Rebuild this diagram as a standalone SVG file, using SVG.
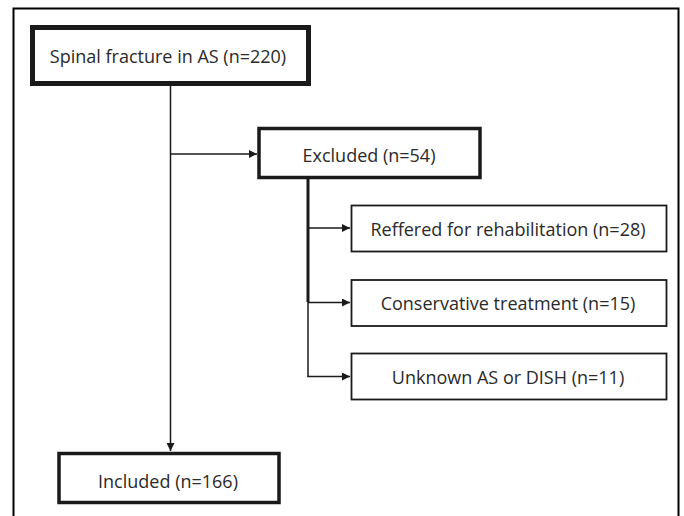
<svg xmlns="http://www.w3.org/2000/svg" width="684" height="516" viewBox="0 0 684 516">
<style>
text{font-family:"Open Sans","Liberation Sans",sans-serif;fill:#2a2a2a;text-anchor:middle;dominant-baseline:central;font-size:18px}
.box{fill:#fff;stroke:#1a1a1a}
.c{fill:none;stroke:#1a1a1a;stroke-width:1.5}
</style>
<defs>
<marker id="ah" viewBox="0 0 10 10" refX="10" refY="5" markerWidth="8" markerHeight="8" markerUnits="userSpaceOnUse" orient="auto">
<path d="M0,0 L10,5 L0,10 z" fill="#1a1a1a"/>
</marker>
</defs>
<rect width="684" height="516" fill="#fff"/>
<path d="M13.5,520 V8.5 H678.5 V520" fill="none" stroke="#000" stroke-width="2"/>
<g id="connectors">
<path class="c" d="M170.5,86 V451" marker-end="url(#ah)"/>
<path class="c" d="M170.5,154 H257" marker-end="url(#ah)"/>
<path d="M308,179 V302" fill="none" stroke="#1a1a1a" stroke-width="3"/>
<path class="c" d="M308,300 V377"/>
<path class="c" d="M308,228 H350" marker-end="url(#ah)"/>
<path class="c" d="M308,302.5 H350" marker-end="url(#ah)"/>
<path class="c" d="M307.5,376.5 H350" marker-end="url(#ah)"/>
</g>
<g id="n1">
<rect class="box" x="32.5" y="27.5" width="276" height="56" stroke-width="5"/>
<text x="168" y="56">Spinal fracture in AS (n=220)</text>
</g>
<g id="n2">
<rect class="box" x="259" y="128.5" width="221" height="49" stroke-width="3.5"/>
<text x="369" y="155">Excluded (n=54)</text>
</g>
<g id="n3">
<rect class="box" x="351.5" y="205.5" width="315" height="46" stroke-width="1.8"/>
<text x="508" y="229">Reffered for rehabilitation (n=28)</text>
</g>
<g id="n4">
<rect class="box" x="351.5" y="280" width="315" height="46" stroke-width="1.8"/>
<text x="508" y="303">Conservative treatment (n=15)</text>
</g>
<g id="n5">
<rect class="box" x="351.5" y="353.5" width="315" height="46" stroke-width="1.8"/>
<text x="508" y="377">Unknown AS or DISH (n=11)</text>
</g>
<g id="n6">
<rect class="box" x="59" y="453.5" width="220" height="49" stroke-width="3.5"/>
<text x="168" y="481">Included (n=166)</text>
</g>
</svg>
